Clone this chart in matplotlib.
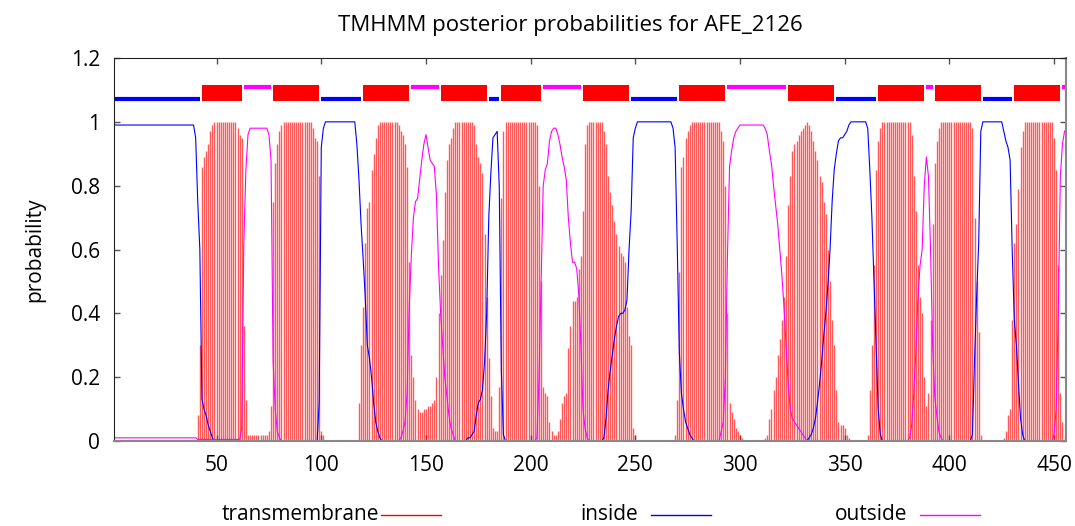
import matplotlib
matplotlib.use("Agg")
import matplotlib.pyplot as plt
from matplotlib.lines import Line2D

plt.rcParams['font.family'] = ['Open Sans', 'DejaVu Sans']

title = "TMHMM posterior probabilities for AFE_2126"

# posterior probability of transmembrane per residue (1..456)
tm = ([0.0] * 40 +                                              # 1-40
      [0.08, 0.30, 0.86, 0.89, 0.91, 0.93, 0.97, 0.99] +        # 41-48
      [1.0] * 11 +                                              # 49-59
      [0.98, 0.96, 0.95, 0.36, 0.13] +                          # 60-64
      [0.02] * 10 +                                             # 65-74
      [0.03, 0.11, 0.75, 0.87, 0.93, 0.97, 0.99] +              # 75-81
      [1.0] * 14 +                                              # 82-95
      [0.98, 0.95, 0.94, 0.83, 0.03, 0.02] +                    # 96-101
      [0.0] * 16 +                                              # 102-117
      [0.12, 0.30, 0.42, 0.62, 0.73, 0.75, 0.85, 0.90, 0.95, 0.99] +  # 118-127
      [1.0] * 9 +                                               # 128-136
      [0.99, 0.97, 0.96, 0.93, 0.86, 0.56, 0.27, 0.20, 0.13, 0.10,
       0.09, 0.09, 0.10, 0.10, 0.11, 0.11, 0.12, 0.13, 0.20, 0.40,
       0.52, 0.63, 0.78, 0.88, 0.93, 0.95, 0.98] +              # 137-163
      [1.0] * 9 +                                               # 164-172
      [0.99, 0.93, 0.89, 0.87, 0.84, 0.65, 0.45, 0.26, 0.14, 0.04,
       0.03, 0.03, 0.17, 0.76, 0.97] +                          # 173-187
      [1.0] * 15 +                                              # 188-202
      [0.99, 0.80, 0.50, 0.17, 0.15, 0.14, 0.06, 0.03, 0.02, 0.02,
       0.03, 0.07, 0.12, 0.14, 0.15, 0.29, 0.36, 0.44, 0.44, 0.45,
       0.54, 0.58, 0.72, 0.93, 0.99] +                          # 203-227
      [1.0] * 7 +                                               # 228-234
      [0.97, 0.93, 0.83, 0.78, 0.74, 0.69, 0.65, 0.61, 0.59, 0.58,
       0.56, 0.42, 0.33, 0.30, 0.04, 0.02] +                    # 235-250
      [0.0] * 18 +                                              # 251-268
      [0.02, 0.13, 0.53, 0.86, 0.89, 0.95, 0.97, 0.99] +        # 269-276
      [1.0] * 14 +                                              # 277-290
      [0.97, 0.94, 0.80, 0.40, 0.12, 0.09, 0.07, 0.04, 0.03, 0.02,
       0.01] +                                                  # 291-301
      [0.0] * 10 +                                              # 302-311
      [0.01, 0.02, 0.07, 0.10, 0.16, 0.20, 0.27, 0.32, 0.38, 0.45,
       0.58, 0.74, 0.83, 0.91, 0.93, 0.94, 0.96, 0.97, 0.98, 0.99,
       1.0, 0.99, 0.97, 0.94, 0.91, 0.88, 0.83, 0.81, 0.75, 0.71,
       0.60, 0.50, 0.38, 0.30, 0.16, 0.06, 0.05, 0.05, 0.04, 0.02,
       0.01] +                                                  # 312-352
      [0.0] * 8 +                                               # 353-360
      [0.02, 0.16, 0.30, 0.55, 0.85, 0.94, 0.98] +              # 361-367
      [1.0] * 14 +                                              # 368-381
      [0.96, 0.83, 0.72, 0.55, 0.45, 0.40, 0.20, 0.11, 0.15, 0.38,
       0.68, 0.87, 0.94, 0.98] +                                # 382-395
      [1.0] * 15 +                                              # 396-410
      [0.98, 0.70, 0.50, 0.34, 0.02] +                          # 411-415
      [0.0] * 10 +                                              # 416-425
      [0.01, 0.03, 0.08, 0.10, 0.38, 0.62, 0.68, 0.79, 0.92, 0.97] +  # 426-435
      [1.0] * 14 +                                              # 436-449
      [0.95, 0.85, 0.55, 0.15, 0.06, 0.02, 0.01])               # 450-456

# posterior probability of inside
inside = ([0.99] * 39 +                                         # 1-39
          [0.95, 0.75, 0.60, 0.13, 0.10, 0.08, 0.05, 0.03, 0.01] +  # 40-48
          [0.0] * 50 +                                          # 49-98
          [0.12, 0.92, 0.98] +                                  # 99-101
          [1.0] * 15 +                                          # 102-116
          [0.93, 0.82, 0.68, 0.57, 0.45, 0.30, 0.26, 0.20, 0.12, 0.06,
           0.03, 0.01] +                                        # 117-128
          [0.0] * 41 +                                          # 129-169
          [0.01, 0.01, 0.02, 0.03, 0.08, 0.12, 0.13, 0.16, 0.25, 0.40,
           0.70, 0.84, 0.95, 0.96, 0.97, 0.80, 0.22, 0.02] +    # 170-187
          [0.0] * 47 +                                          # 188-234
          [0.01, 0.07, 0.16, 0.22, 0.27, 0.32, 0.36, 0.39, 0.40, 0.40,
           0.41, 0.44, 0.60, 0.72, 0.95, 0.98] +                # 235-250
          [1.0] * 17 +                                          # 251-267
          [0.98, 0.92, 0.62, 0.28, 0.15, 0.10, 0.06, 0.04, 0.02, 0.01] +  # 268-277
          [0.0] * 55 +                                          # 278-332
          [0.01, 0.02, 0.04, 0.07, 0.12, 0.18, 0.25, 0.33, 0.40, 0.49,
           0.60, 0.75, 0.85, 0.90, 0.94, 0.95, 0.95, 0.96, 0.97, 0.99] +  # 333-352
          [1.0] * 8 +                                           # 353-360
          [0.98, 0.85, 0.70, 0.50, 0.30, 0.10, 0.02] +          # 361-367
          [0.0] * 43 +                                          # 368-410
          [0.02, 0.25, 0.45, 0.62, 0.97] +                      # 411-415
          [1.0] * 10 +                                          # 416-425
          [0.97, 0.94, 0.92, 0.88, 0.60, 0.38, 0.30, 0.18, 0.07, 0.02] +  # 426-435
          [0.0] * 21)                                           # 436-456

# posterior probability of outside
outside = ([0.01] * 40 +                                        # 1-40
           [0.005] * 21 +                                       # 41-61
           [0.04, 0.62, 0.85, 0.96] +                           # 62-65
           [0.98] * 9 +                                         # 66-74
           [0.96, 0.88, 0.25, 0.10, 0.03, 0.01] +               # 75-80
           [0.0] * 57 +                                         # 81-137
           [0.01, 0.03, 0.06, 0.15, 0.42, 0.58, 0.70, 0.75, 0.76, 0.82,
            0.88, 0.93, 0.96, 0.92, 0.88, 0.87, 0.86, 0.77, 0.55, 0.40,
            0.30, 0.20, 0.14, 0.08, 0.04, 0.02] +               # 138-163
           [0.0] * 39 +                                         # 164-202
           [0.01, 0.20, 0.50, 0.80, 0.85, 0.87, 0.94, 0.97, 0.98, 0.98,
            0.96, 0.93, 0.89, 0.86, 0.82, 0.70, 0.62, 0.56, 0.56, 0.54,
            0.46, 0.30, 0.10, 0.04, 0.01] +                     # 203-227
           [0.0] * 63 +                                         # 228-290
           [0.03, 0.06, 0.20, 0.58, 0.86, 0.91, 0.95, 0.97, 0.98] +  # 291-299
           [0.99] * 12 +                                        # 300-311
           [0.98, 0.96, 0.91, 0.87, 0.80, 0.74, 0.68, 0.60, 0.52, 0.42,
            0.30, 0.18, 0.10, 0.07, 0.06, 0.05, 0.04, 0.03, 0.02, 0.01] +  # 312-331
           [0.0] * 49 +                                         # 332-380
           [0.01, 0.05, 0.15, 0.28, 0.45, 0.55, 0.60, 0.80, 0.89, 0.83,
            0.60, 0.30, 0.14, 0.08, 0.03, 0.01] +               # 381-396
           [0.0] * 53 +                                         # 397-449
           [0.02, 0.10, 0.40, 0.83, 0.93, 0.97, 0.98])          # 450-456

# predicted topology (start, end)
tm_segs = [(43, 62), (77, 99), (120, 142), (157, 179), (186, 205), (225, 247),
           (271, 293), (323, 345), (366, 388), (393, 415), (431, 453)]
inside_segs = [(1, 42), (100, 119), (180, 185), (248, 270), (346, 365), (416, 430)]
outside_segs = [(63, 76), (143, 156), (206, 224), (294, 322), (389, 392), (454, 456)]

res_tm = list(range(1, len(tm) + 1))
res_in = list(range(1, len(inside) + 1))
res_out = list(range(1, len(outside) + 1))

fig = plt.figure(figsize=(10.75, 5.26), dpi=100)
ax = fig.add_axes([114 / 1075, 1 - 441 / 526, 952 / 1075, 383 / 526])

ax.vlines(res_tm, 0, tm, colors='#ff0000', linewidth=1.0, alpha=0.65)
ax.plot(res_in, inside, color='#0000ff', linewidth=0.8)
ax.plot(res_out, outside, color='#ff00ff', linewidth=0.8)

# topology bars on top
ax.broken_barh([(s, e - s) for s, e in tm_segs], (1.066, 0.048),
               facecolors='#ff0000', edgecolor='none')
ax.hlines([1.07] * len(inside_segs), [s for s, e in inside_segs],
          [e for s, e in inside_segs], colors='#0000ff', linewidth=3)
ax.hlines([1.11] * len(outside_segs), [s for s, e in outside_segs],
          [e for s, e in outside_segs], colors='#ff00ff', linewidth=3)

ax.set_xlim(1, 455.7)
ax.set_ylim(0, 1.2)
ax.set_xticks([50, 100, 150, 200, 250, 300, 350, 400, 450])
ax.set_yticks([0, 0.2, 0.4, 0.6, 0.8, 1.0, 1.2])
ax.set_yticklabels(['0', '0.2', '0.4', '0.6', '0.8', '1', '1.2'])
ax.tick_params(direction='in', length=4, width=1, top=True, right=True,
               labelsize=15, pad=10, color='#555555')
for side in ['top', 'left']:
    ax.spines[side].set_color('#222222')
for side in ['bottom', 'right']:
    ax.spines[side].set_color('#888888')
    ax.spines[side].set_linewidth(1.5)

ax.set_ylabel('probability', fontsize=15)
ax.yaxis.set_label_coords(-0.0725, 0.5)

fig.text(570 / 1075, 1 - 25 / 526, title, ha='center', va='center', fontsize=16)

# key below the plot (gnuplot style: text then sample)
keys = [("transmembrane", '#ff0000', 379, 381, 441),
        ("inside", '#0000ff', 638, 651, 711),
        ("outside", '#ff00ff', 907, 920, 980)]
ky = 1 - 515 / 526
for label, col, tx, x0, x1 in keys:
    fig.text(tx / 1075, ky, label, ha='right', va='center', fontsize=15)
    fig.add_artist(Line2D([x0 / 1075, x1 / 1075], [ky, ky], color=col,
                          linewidth=1, transform=fig.transFigure))

fig.savefig('out.png', dpi=100)
